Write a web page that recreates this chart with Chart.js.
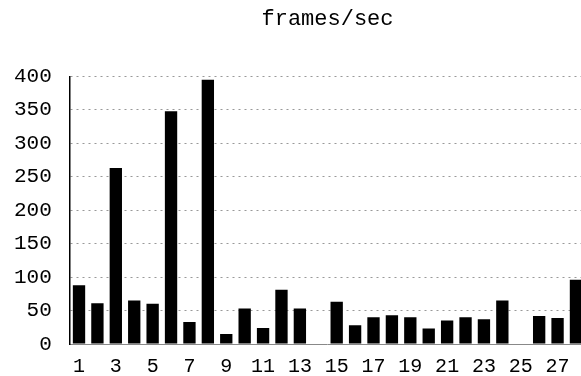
<!DOCTYPE html>
<html>
<head>
<meta charset="utf-8">
<script src="https://cdn.jsdelivr.net/npm/chart.js@4/dist/chart.umd.min.js"></script>
<style>
  html, body { margin: 0; padding: 0; background: #fff; overflow: hidden; }
  #wrap { position: relative; width: 587px; height: 376px; }
</style>
</head>
<body>
<div id="wrap"><canvas id="c"></canvas></div>
<script>
const categories = ['1','2','3','4','5','6','7','8','9','10','11','12','13','14','15','16','17','18','19','20','21','22','23','24','25','26','27','28'];
const framesPerSec = [88, 61, 263, 65, 60, 348, 33, 395, 15, 53, 24, 81, 53, 0, 63, 28, 40, 43, 40, 23, 35, 40, 37, 65, 0, 42, 39, 96];
const yTicks = [0, 50, 100, 150, 200, 250, 300, 350, 400];
const titleText = 'frames/sec';

const monoFamily = "'Liberation Mono', 'DejaVu Sans Mono', monospace";

const chart = new Chart(document.getElementById('c'), {
  type: 'bar',
  data: {
    labels: categories,
    datasets: [{
      data: framesPerSec,
      backgroundColor: '#000',
      borderWidth: 0,
      barPercentage: 0.67,
      categoryPercentage: 1.0
    }]
  },
  options: {
    responsive: true,
    maintainAspectRatio: false,
    animation: false,
    devicePixelRatio: 1,
    layout: { padding: { left: -4, right: 0, top: 0, bottom: -14 } },
    plugins: {
      legend: { display: false },
      tooltip: { enabled: false },
      title: {
        display: true,
        text: titleText,
        fullSize: false,
        color: '#000',
        font: { family: monoFamily, size: 22, weight: 'normal' },
        padding: { top: 6, bottom: 44 }
      }
    },
    scales: {
      x: {
        offset: true,
        grid: { display: false, drawTicks: false },
        border: { display: true, color: '#888', width: 1 },
        ticks: {
          autoSkip: false,
          maxRotation: 0,
          minRotation: 0,
          padding: 11,
          color: '#000',
          font: { family: monoFamily, size: 20 },
          callback: (v, i) => (i % 2 === 0 ? categories[i] : '')
        }
      },
      y: {
        min: 0,
        max: 400,
        afterBuildTicks: (axis) => { axis.ticks = yTicks.map(v => ({ value: v })); },
        grid: { display: true, drawTicks: false, color: '#999', lineWidth: 1 },
        border: { display: true, color: '#000', width: 1.5, dash: [2, 4] },
        ticks: { padding: 18, color: '#000', font: { family: monoFamily, size: 21 } }
      }
    }
  }
});
</script>
</body>
</html>
